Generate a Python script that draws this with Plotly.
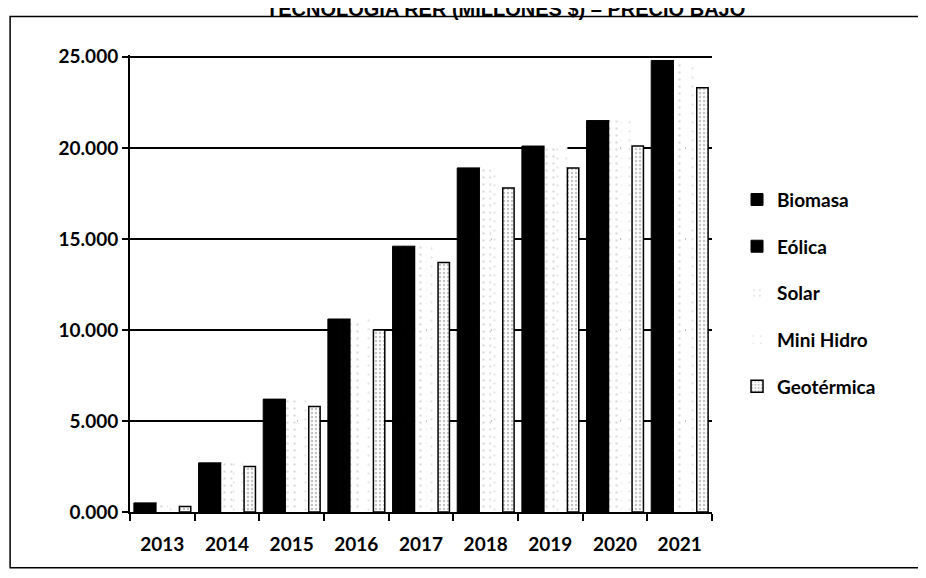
import plotly.graph_objects as go

# data (millones $)
years = ["2013", "2014", "2015", "2016", "2017", "2018", "2019", "2020", "2021"]
biomasa = [0.5, 2.7, 6.2, 10.6, 14.6, 18.9, 20.1, 21.5, 24.8]
eolica = [0.5, 2.7, 6.2, 10.6, 14.6, 18.9, 20.1, 21.5, 24.8]
solar = [0.5, 2.7, 6.2, 10.6, 14.6, 18.9, 20.1, 21.5, 24.8]
mini_hidro = [0.5, 2.7, 6.2, 10.6, 14.6, 18.9, 20.1, 21.5, 24.8]
geotermica = [0.3, 2.5, 5.8, 10.0, 13.7, 17.8, 18.9, 20.1, 23.3]

y_ticks = [0, 5, 10, 15, 20, 25]
y_labels = ["0.000", "5.000", "10.000", "15.000", "20.000", "25.000"]

series = [
    ("Biomasa", biomasa, dict(color="black", line=dict(color="black", width=1))),
    ("Eólica", eolica, dict(color="black", line=dict(color="black", width=1))),
    ("Solar", solar, dict(color="white", line=dict(color="white", width=0),
                          pattern=dict(shape=".", fgcolor="#bbbbbb", size=7, solidity=0.1))),
    ("Mini Hidro", mini_hidro, dict(color="white", line=dict(color="white", width=0),
                                    pattern=dict(shape=".", fgcolor="#cccccc", size=9, solidity=0.05))),
    ("Geotérmica", geotermica, dict(color="white", line=dict(color="black", width=1.5),
                                    pattern=dict(shape=".", fgcolor="#888888", size=4, solidity=0.3))),
]

fig = go.Figure()
for i, (name, vals, marker) in enumerate(series):
    fig.add_trace(go.Bar(x=years, y=vals, name=name, marker=marker, legendgroup=str(i)))

fig.update_layout(
    width=926,
    height=578,
    barmode="group",
    bargap=0.12,
    bargroupgap=0,
    plot_bgcolor="white",
    paper_bgcolor="white",
    font=dict(family="Lato, Open Sans, sans-serif", size=19, color="black", weight="bold"),
    margin=dict(l=122, r=222, t=47, b=74),
    legend=dict(
        x=1.043, xanchor="left", y=0.725, yanchor="top",
        tracegroupgap=19, font=dict(size=19),
        itemwidth=30, traceorder="grouped",
    ),
    annotations=[
        dict(text="<b>TECNOLOGIA RER (MILLONES $) – PRECIO BAJO</b>",
             xref="paper", yref="paper", x=0.645, y=1.1005,
             xanchor="center", yanchor="middle", showarrow=False,
             font=dict(family="Liberation Sans, Arial", size=20, color="black")),
    ],
    shapes=[
        dict(type="rect", xref="paper", yref="paper",
             x0=-0.206, x1=1.4, y0=-0.122, y1=1.084,
             line=dict(color="black", width=1.5)),
    ],
)

fig.update_xaxes(
    showline=True, linecolor="black", linewidth=2,
    ticks="outside", tickson="boundaries", ticklen=7, tickcolor="black", tickwidth=2,
    ticklabelstandoff=14, showgrid=False,
)
fig.update_yaxes(
    range=[0, 25.1], tickvals=y_ticks, ticktext=y_labels,
    showline=True, linecolor="black", linewidth=2,
    ticks="outside", ticklen=6, tickcolor="black", tickwidth=2,
    showgrid=True, gridcolor="black", gridwidth=2,
    zeroline=False,
)

fig.write_html("out.html")
